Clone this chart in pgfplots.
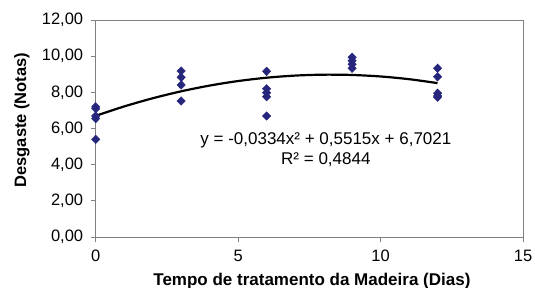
\documentclass[border=0pt]{standalone}
\usepackage{fontspec}
\setmainfont{Liberation Sans}
\usepackage{pgfplots}
\pgfplotsset{compat=1.18}
\definecolor{navy}{RGB}{38,38,125}
\definecolor{axgray}{RGB}{128,128,128}
\begin{document}
\begin{tikzpicture}[x=1pt,y=1pt]
\begin{axis}[
  at={(0pt,0pt)}, anchor=south west,
  scale only axis, width=427.3pt, height=217pt,
  xmin=0, xmax=15, ymin=0, ymax=12,
  xtick={0,5,10,15}, ytick={0,2,...,12},
  axis line style={axgray, line width=0.9pt},
  tick style={axgray, line width=0.9pt},
  tick align=outside, major tick length=5pt,
  xtick pos=bottom, ytick pos=left,
  /pgf/number format/assume math mode=true,
  tick label style={font=\fontsize{16.5}{18}\selectfont},
  yticklabel style={xshift=-4pt, /pgf/number format/fixed, /pgf/number format/fixed zerofill, /pgf/number format/precision=2, /pgf/number format/use comma, /pgf/number format/1000 sep={}},
  xticklabel style={yshift=-4.5pt},
  xlabel={Tempo de tratamento da Madeira (Dias)},
  ylabel={Desgaste (Notas)},
  every axis x label/.style={at={(axis description cs:0.506,-0.224)}, anchor=base, font=\bfseries\fontsize{17}{19}\selectfont},
  every axis y label/.style={at={(axis description cs:-0.1725,0.539)}, rotate=90, anchor=center, font=\bfseries\fontsize{16.5}{18}\selectfont},
  clip=false,
]
\addplot[only marks, mark=diamond*, mark size=4.3pt, mark options={xscale=1.3, fill=navy, draw=navy}] coordinates {
  (0,7.20) (0,7.10) (0,6.69) (0,6.55) (0,5.40)
  (3,9.18) (3,8.83) (3,8.41) (3,7.52)
  (6,9.16) (6,8.20) (6,7.98) (6,7.76) (6,6.69)
  (9,9.94) (9,9.75) (9,9.55) (9,9.33)
  (12,9.33) (12,8.86) (12,7.95) (12,7.80) (12,7.73)
};
\addplot[black, line width=2.2pt, smooth] coordinates {
  (0,6.7021) (1,7.2202) (2,7.6715) (3,8.0560) (4,8.3737) (5,8.6246)
  (6,8.8087) (7,8.9260) (8,8.9765) (9,8.9602) (10,8.8771) (11,8.7272) (12,8.5105)
};
\node[font=\fontsize{17}{19}\selectfont, anchor=center] at (axis cs:8.08,5.36) {y = -0,0334x² + 0,5515x + 6,7021};
\node[font=\fontsize{17}{19}\selectfont, anchor=center] at (axis cs:8.08,4.26) {R² = 0,4844};
\end{axis}
\pgfresetboundingbox
\path[use as bounding box] (-95.7pt,-51pt) rectangle (439.3pt,237pt);
\end{tikzpicture}
\end{document}
